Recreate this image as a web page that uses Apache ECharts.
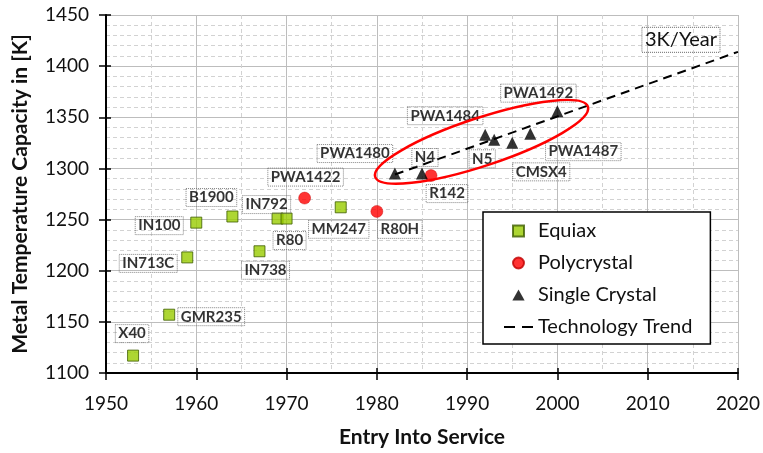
<!DOCTYPE html>
<html><head><meta charset="utf-8">
<script src="https://cdn.jsdelivr.net/npm/echarts@6/dist/echarts.min.js"></script>
<style>html,body{margin:0;padding:0;background:#fff}#c{width:763px;height:453px}</style>
</head><body><div id="c"></div>
<script>
// ---- data ----
const equiaxNames  = ['X40','GMR235','IN713C','IN100','B1900','IN738','IN792','R80','MM247'];
const equiaxYears  = [1953, 1957, 1959, 1960, 1964, 1967, 1969, 1970, 1976];
const equiaxValues = [1117, 1157, 1213, 1247, 1253, 1219, 1251, 1251, 1262];

const polyNames  = ['PWA1422','R80H','R142'];
const polyYears  = [1972, 1980, 1986];
const polyValues = [1271, 1258, 1293];

const singleNames  = ['PWA1480','N4','PWA1484','N5','CMSX4','PWA1487','PWA1492'];
const singleYears  = [1982, 1985, 1992, 1993, 1995, 1997, 2000];
const singleValues = [1295, 1295, 1333, 1328, 1325, 1334, 1356];

const trendYears  = [1982, 2020];
const trendValues = [1294, 1414];
const trendLabel  = '3K/Year';

const seriesNames = ['Equiax','Polycrystal','Single Crystal','Technology Trend'];
const xTitle = 'Entry Into Service';
const yTitle = 'Metal Temperature Capacity in [K]';

// ---- label placement (style only) ----
const labelOffsets = {
  'X40':[-1,-22], 'GMR235':[42,2], 'IN713C':[-39,6], 'IN100':[-37,3], 'B1900':[-21,-19],
  'IN738':[6,19], 'IN792':[-11,-14], 'R80':[3,22], 'MM247':[-2,22],
  'PWA1422':[1,-21], 'R80H':[23,18], 'R142':[16,18],
  'PWA1480':[-40,-20], 'N4':[3,-16], 'PWA1484':[-40,-19], 'N5':[-12,19],
  'CMSX4':[29,29], 'PWA1487':[53,18], 'PWA1492':[-19,-18]
};

const FONT = 'Lato';
const pointLabel = {
  show: true, position: 'inside', formatter: '{b}',
  fontFamily: FONT, fontWeight: 'bold', fontSize: 15, color: '#000',
  borderType: 'dotted', borderColor: '#666', borderWidth: 1, padding: [2,3,1,3]
};
function build(names, years, values) {
  return names.map((n, i) => ({ name: n, value: [years[i], values[i]], label: { offset: labelOffsets[n] } }));
}

const chart = echarts.init(document.getElementById('c'), null, { renderer: 'canvas' });

const axisCommon = {
  type: 'value',
  axisLine: { show: true, lineStyle: { color: '#000', width: 2 } },
  axisTick: { show: true, length: 7, lineStyle: { color: '#000', width: 1.5 } },
  axisLabel: { fontFamily: FONT, fontSize: 19, color: '#111', formatter: v => String(v) },
  splitLine: { show: true, lineStyle: { color: '#bdbdbd', width: 1 } },
  minorSplitLine: { show: true, lineStyle: { color: '#d2d2d2', width: 1, type: [4, 3] } },
  nameLocation: 'middle',
  nameTextStyle: { fontFamily: FONT, fontWeight: 'bold', fontSize: 21, color: '#111' }
};
const innerTicks = (extra) => Object.assign({
  type: 'value', axisLine: { show: false }, axisLabel: { show: false },
  splitLine: { show: false },
  axisTick: { show: true, inside: true, length: 5, lineStyle: { color: '#000', width: 1.5 } }
}, extra);

chart.setOption({
  animation: false,
  backgroundColor: '#fff',
  grid: { left: 106, right: 25, top: 15, bottom: 79, containLabel: false },
  xAxis: [
    Object.assign({}, axisCommon, {
      min: 1950, max: 2020, interval: 10,
      minorTick: { show: false, splitNumber: 2 },
      axisLabel: Object.assign({}, axisCommon.axisLabel, { margin: 21 }),
      name: xTitle, nameGap: 54
    }),
    innerTicks({ min: 1950, max: 2020, interval: 10, position: 'bottom' })
  ],
  yAxis: [
    Object.assign({}, axisCommon, {
      min: 1100, max: 1450, interval: 50,
      minorTick: { show: false, splitNumber: 5 },
      axisLabel: Object.assign({}, axisCommon.axisLabel, { margin: 17 }),
      name: yTitle, nameGap: 75
    }),
    innerTicks({ min: 1100, max: 1450, interval: 50, position: 'left' })
  ],
  legend: {
    data: [
      { name: seriesNames[0], icon: 'path://M0,0L10,0L10,10L0,10Z' },
      { name: seriesNames[1], icon: 'circle' },
      { name: seriesNames[2], icon: 'path://M5,0L10,9L0,9Z' },
      { name: seriesNames[3], icon: 'path://M0,0H11V2H0Z M18,0H29V2H18Z' }
    ],
    orient: 'vertical', left: 483, top: 212,
    padding: [9, 18, 7, 21], itemGap: 12, itemWidth: 29, itemHeight: 11,
    symbolKeepAspect: true,
    backgroundColor: '#fff', borderColor: '#000', borderWidth: 1.5,
    textStyle: { fontFamily: FONT, fontSize: 20, color: '#111' },
    z: 20
  },
  series: [
    {
      name: seriesNames[3], type: 'line', z: 2,
      data: trendYears.map((y, i) => [y, trendValues[i]]),
      symbol: 'none',
      itemStyle: { color: '#000' },
      lineStyle: { color: '#000', width: 2, type: [9, 6] },
      markPoint: {
        symbol: 'circle', symbolSize: 0, silent: true,
        data: [{ coord: [trendYears[1], trendValues[1]], value: trendLabel }],
        label: {
          show: true, position: 'inside', offset: [-57, -12], formatter: trendLabel,
          fontFamily: FONT, fontSize: 20, color: '#111',
          borderType: 'dotted', borderColor: '#666', borderWidth: 1, padding: [3,3,2,3]
        }
      }
    },
    {
      name: seriesNames[0], type: 'scatter', z: 3,
      symbol: 'rect', symbolSize: 11,
      itemStyle: { color: '#99cc00', borderColor: '#3d5c00', borderWidth: 1 },
      label: pointLabel,
      data: build(equiaxNames, equiaxYears, equiaxValues)
    },
    {
      name: seriesNames[1], type: 'scatter', z: 3,
      symbol: 'circle', symbolSize: 12,
      itemStyle: { color: '#ff0000', borderColor: '#c00000', borderWidth: 0.5 },
      label: pointLabel,
      data: build(polyNames, polyYears, polyValues)
    },
    {
      name: seriesNames[2], type: 'scatter', z: 3,
      symbol: 'triangle', symbolSize: 12,
      itemStyle: { color: '#000' },
      label: pointLabel,
      data: build(singleNames, singleYears, singleValues)
    }
  ]
});

// red ellipse highlighting the single-crystal group (annotation)
const ellipseCenter = [1991.6, 1326];
const c = chart.convertToPixel({ xAxisIndex: 0, yAxisIndex: 0 }, ellipseCenter);
chart.setOption({
  graphic: [{
    type: 'ellipse', x: c[0], y: c[1], rotation: 0.319, z: 10,
    shape: { cx: 0, cy: 0, rx: 112, ry: 24 },
    style: { stroke: '#ff0000', lineWidth: 2.5, fill: null }
  }]
});
</script>
</body></html>
